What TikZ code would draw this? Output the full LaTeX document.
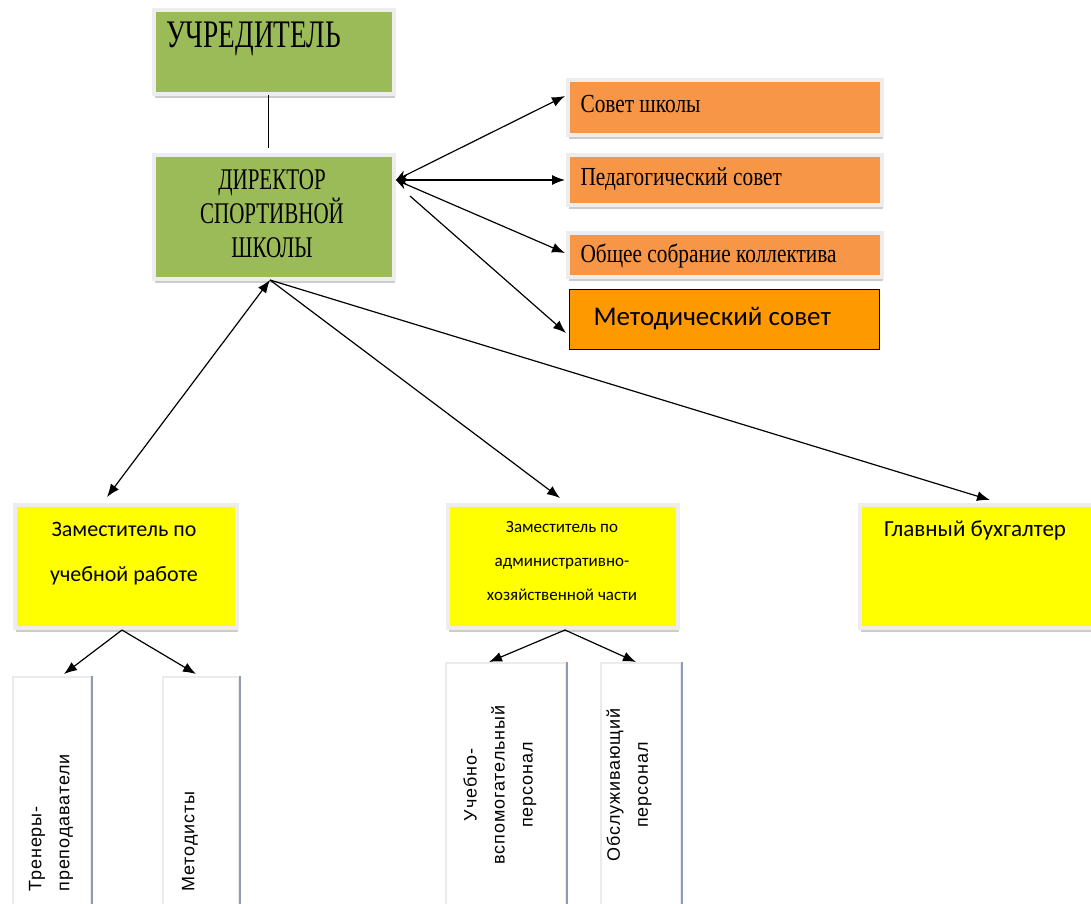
\documentclass[tikz,border=0pt]{standalone}
\usepackage{fontspec}
\setmainfont{Liberation Serif}
\newfontfamily\narrowA[FakeStretch=0.7]{Liberation Serif}
\newfontfamily\narrowB[FakeStretch=0.82]{Liberation Serif}
\newfontfamily\calfont{Carlito}
\newfontfamily\spacedsans[LetterSpace=5]{Liberation Sans}
\usetikzlibrary{arrows.meta,shadows}
\definecolor{boxgreen}{HTML}{9BBB59}
\definecolor{boxorange}{HTML}{F79646}
\definecolor{brightorange}{HTML}{FF9900}
\definecolor{boxyellow}{HTML}{FFFF00}
\definecolor{edgeblue}{HTML}{8E9BB5}
\begin{document}
\begin{tikzpicture}[x=1pt,y=-1pt,
  framed/.style={draw=black!7, line width=4pt, anchor=north west, inner sep=0pt,
    drop shadow={shadow xshift=1pt, shadow yshift=-4pt, fill=black!25, opacity=0.8}},
  greenbox/.style={framed, fill=boxgreen, minimum width=240pt},
  orangebox/.style={framed, fill=boxorange, minimum width=314pt},
  yellowbox/.style={framed, fill=boxyellow, minimum height=123pt},
  whitebox/.style={draw=black!8, line width=2pt, fill=white, anchor=north west, inner sep=0pt},
  serifbig/.style={font=\narrowA\fontsize{39}{39}\selectfont},
  serifmid/.style={font=\narrowA\fontsize{30}{34}\selectfont},
  serifsmall/.style={font=\narrowB\fontsize{26}{28}\selectfont, anchor=west},
  sanstext/.style={font=\calfont\fontsize{#1}{#1}\selectfont},
  vtext/.style={font=\spacedsans\fontsize{18}{28}\selectfont, rotate=90},
  conn/.style={line width=1.2pt, -{Latex[length=13pt,width=10pt]}},
  bothconn/.style={line width=1.2pt, {Latex[length=13pt,width=10pt]}-{Latex[length=13pt,width=10pt]}},
  tipstart/.style={line width=1.2pt, {Stealth[length=11pt,width=10pt]}-{Latex[length=13pt,width=10pt]}}
]
\useasboundingbox (0,0) rectangle (1091,903);

% top boxes
\node[greenbox, minimum height=84pt] (uch) at (152,8) {};
\node[serifbig, anchor=west] (ucht) at (163,39) {УЧРЕДИТЕЛЬ};
\node[greenbox, minimum height=124pt] (dir) at (152,153) {};
\node[serifmid, align=center] (dirt) at (272,214) {ДИРЕКТОР\\СПОРТИВНОЙ\\ШКОЛЫ};
\coordinate (u2) at (268,95);
\coordinate (d2) at (268,148);
\draw[line width=0.8pt] (u2) -- (d2);

% councils
\node[orangebox, minimum height=55pt] (sov) at (566,78) {};
\node[serifsmall] (sovt) at (577,104) {Совет школы};
\node[orangebox, minimum height=50pt] (ped) at (566,153) {};
\node[serifsmall] (pedt) at (577,179) {Педагогический совет};
\node[orangebox, minimum height=44pt] (obs) at (566,231) {};
\node[serifsmall] (obst) at (577,256) {Общее собрание коллектива};
\node[draw=black, line width=1.2pt, fill=brightorange, anchor=north west, minimum width=310pt, minimum height=60pt, inner sep=0pt] (met) at (569,289) {};
\node[sanstext=27, anchor=west] (mett) at (590,319) {Методический совет};

\coordinate (dr) at (396,180);
\coordinate (dr2) at (410,196);
\coordinate (sovin) at (565,96);
\coordinate (pedin) at (565,180);
\coordinate (obsin) at (565,253);
\coordinate (metin) at (566,333);
\draw[tipstart] (dr) -- (sovin);
\draw[tipstart] (dr) -- (pedin);
\draw[tipstart] (dr) -- (obsin);
\draw[conn] (dr2) -- (metin);

% deputies
\node[yellowbox, minimum width=222pt] (zam1) at (13,503) {};
\node[align=center, font=\calfont\fontsize{22}{45}\selectfont] (zam1t) at (124,554) {Заместитель по\\учебной работе};
\node[yellowbox, minimum width=230pt] (zam2) at (446,503) {};
\node[align=center, font=\calfont\fontsize{17}{34}\selectfont] (zam2t) at (562,561) {Заместитель по\\административно-\\хозяйственной части};
\node[yellowbox, minimum width=236pt] (buh) at (858,503) {};
\node[sanstext=23] (buht) at (975,531) {Главный бухгалтер};

\coordinate (db) at (270,280);
\coordinate (zam1in) at (107,497);
\coordinate (zam2in) at (560,498);
\coordinate (buhin) at (990,500);
\draw[bothconn] (db) -- (zam1in);
\draw[conn] (db) -- (zam2in);
\draw[conn] (db) -- (buhin);

% staff
\node[whitebox, minimum width=78pt, minimum height=240pt] (tr) at (12,676) {};
\draw[edgeblue, line width=1.2pt] (tr.north east) -- (tr.south east);
\node[whitebox, minimum width=76pt, minimum height=240pt] (md) at (162,676) {};
\draw[edgeblue, line width=1.2pt] (md.north east) -- (md.south east);
\node[whitebox, minimum width=120pt, minimum height=250pt] (uv) at (445,662) {};
\draw[edgeblue, line width=1.2pt] (uv.north east) -- (uv.south east);
\node[whitebox, minimum width=80pt, minimum height=250pt] (ob) at (600,662) {};
\draw[edgeblue, line width=1.2pt] (ob.north east) -- (ob.south east);

\node[vtext, anchor=west, align=left] (trt) at (51,895) {Тренеры-\\преподаватели};
\node[vtext, anchor=west] (mdt) at (190,895) {Методисты};
\node[vtext, align=center] (uvt) at (500,785) {Учебно-\\вспомогательный\\персонал};
\node[vtext, align=center] (obt) at (629,785) {Обслуживающий\\персонал};

\coordinate (z1b) at (122,630);
\coordinate (z2b) at (565,630);
\coordinate (trin) at (64,674);
\coordinate (mdin) at (196,674);
\coordinate (uvin) at (489,662);
\coordinate (obin) at (636,662);
\draw[conn] (z1b) -- (trin);
\draw[conn] (z1b) -- (mdin);
\draw[conn] (z2b) -- (uvin);
\draw[conn] (z2b) -- (obin);
\end{tikzpicture}
\end{document}
